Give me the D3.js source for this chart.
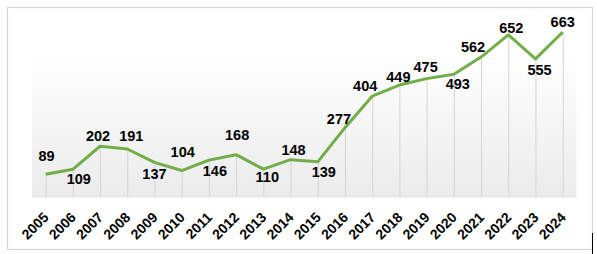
<!DOCTYPE html>
<html>
<head>
<meta charset="utf-8">
<script src="https://cdn.jsdelivr.net/npm/d3@7"></script>
<style>
  body { margin: 0; background: #fff; }
  svg { display: block; }
</style>
</head>
<body>
<script>
const years = ['2005', '2006', '2007', '2008', '2009', '2010', '2011', '2012', '2013', '2014',
               '2015', '2016', '2017', '2018', '2019', '2020', '2021', '2022', '2023', '2024'];
const values = [89, 109, 202, 191, 137, 104, 146, 168, 110, 148,
                139, 277, 404, 449, 475, 493, 562, 652, 555, 663];
// where each value label sits relative to its point
const labelDx = [1, 6, -2, 4, 0, 1, 6, 1, 4, 3, 6, -6, -7, -1, -1, 4, -8, 3, 4, 0];
const labelDy = [-13, 15, -5, -8, 17, -14, 16, -15, 13, -5, 15, -4, -5, -3, -7, 15, -5, -2, 16, -5];

const width = 597, height = 254;

const svg = d3.select('body').append('svg')
    .attr('width', width)
    .attr('height', height);

// chart frame
svg.append('rect')
    .attr('x', 7.5).attr('y', 7.5)
    .attr('width', 585).attr('height', 242)
    .attr('fill', '#fff')
    .attr('stroke', '#d6d6d6')
    .attr('stroke-width', 1.2);
svg.append('line')
    .attr('x1', 592.5).attr('x2', 592.5)
    .attr('y1', 233).attr('y2', 254)
    .attr('stroke', '#000');

const x = d3.scaleBand()
    .domain(years)
    .range([32, 576.3]);

const y = d3.scaleLinear()
    .domain([0, 700])
    .range([196.3, 22.9]);

const xc = d => x(d) + x.bandwidth() / 2;

// plot area gradient
const grad = svg.append('defs').append('linearGradient')
    .attr('id', 'bg')
    .attr('x1', 0).attr('y1', 0).attr('x2', 0).attr('y2', 1);
grad.append('stop').attr('offset', '0%').attr('stop-color', '#ffffff');
grad.append('stop').attr('offset', '100%').attr('stop-color', '#ebebeb');

svg.append('rect')
    .attr('x', 32).attr('y', 53)
    .attr('width', 576.3 - 32).attr('height', y(0) - 53)
    .attr('fill', 'url(#bg)');

// drop lines
svg.append('g').selectAll('line')
    .data(years)
    .enter()
    .append('line')
    .attr('x1', d => xc(d) + 0.5)
    .attr('x2', d => xc(d) + 0.5)
    .attr('y1', (d, i) => y(values[i]))
    .attr('y2', y(0))
    .attr('stroke', '#d4d4d4')
    .attr('stroke-width', 1);

// baseline
svg.append('line')
    .attr('x1', 32).attr('x2', 576.3)
    .attr('y1', y(0) + 0.5).attr('y2', y(0) + 0.5)
    .attr('stroke', '#d9d9d9');

// x axis labels
const xAxis = d3.axisBottom(x).tickSize(0).tickPadding(0);
const xg = svg.append('g')
    .attr('transform', 'translate(0,' + y(0) + ')')
    .call(xAxis);
xg.select('.domain').remove();
xg.selectAll('text')
    .attr('font-family', 'Liberation Sans, Arial, sans-serif')
    .attr('font-size', '14px')
    .attr('font-weight', 'bold')
    .attr('fill', '#000')
    .attr('text-anchor', 'end')
    .attr('dy', null)
    .attr('y', null)
    .attr('transform', 'translate(4,22) rotate(-45)');

// line
const line = d3.line()
    .x((d, i) => xc(years[i]))
    .y(d => y(d));

svg.append('path')
    .datum(values)
    .attr('d', line)
    .attr('fill', 'none')
    .attr('stroke', '#72ad48')
    .attr('stroke-width', 3)
    .attr('stroke-linejoin', 'round');

// value labels
svg.append('g').selectAll('text')
    .data(values)
    .enter()
    .append('text')
    .attr('x', (d, i) => xc(years[i]) + labelDx[i])
    .attr('y', (d, i) => y(d) + labelDy[i])
    .attr('text-anchor', 'middle')
    .attr('font-family', 'Liberation Sans, Arial, sans-serif')
    .attr('font-size', '14.5px')
    .attr('font-weight', 'bold')
    .attr('fill', '#000')
    .text(d => d);
</script>
</body>
</html>
